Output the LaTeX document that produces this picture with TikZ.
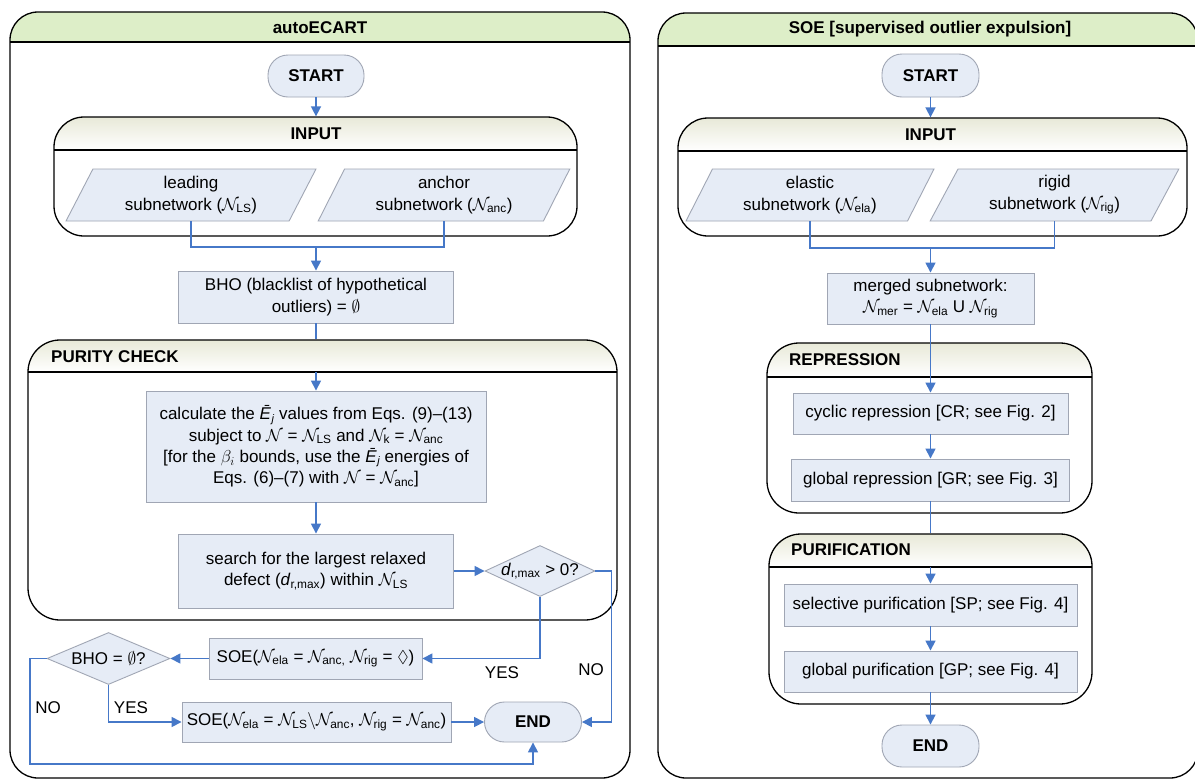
\documentclass[tikz,border=0pt]{standalone}
\usepackage{amsmath,amssymb}
\usepackage{fontspec}
\setmainfont{Liberation Sans}
\usetikzlibrary{arrows.meta,shapes.geometric,fit}
\definecolor{boxfill}{RGB}{230,236,246}
\definecolor{boxline}{RGB}{160,166,180}
\definecolor{cblue}{RGB}{70,120,200}
\definecolor{hdgreen}{RGB}{221,238,200}
\definecolor{hdtop}{RGB}{232,233,216}
\newcommand\Nsub[1]{$\mathcal{N}_{\text{#1}}$}
\newcommand\Ebar{\textit{Ē}\kern0.5pt\raisebox{-2.5pt}{\fontsize{11}{11}\selectfont\textit{j}}}
\newcommand\Panel[6]{%
 \begin{scope}
  \clip[rounded corners=28pt] (#2,#3) rectangle (#4,#5);
  \fill[hdgreen] (#2,#3) rectangle (#4,#6);
 \end{scope}
 \draw[line width=1.3pt] (#2,#6) -- (#4,#6);
 \node[cont, rounded corners=28pt, fit={(#2,#3) (#4,#5)}] (#1) {};
}
\newcommand\Container[7]{%
 \begin{scope}
  \clip[rounded corners=#7] (#2,#3) rectangle (#4,#5);
  \shade[top color=hdtop, bottom color=white] (#2,#3) rectangle (#4,#6);
 \end{scope}
 \draw[line width=1.3pt] (#2,#6) -- (#4,#6);
 \node[cont, rounded corners=#7, fit={(#2,#3) (#4,#5)}] (#1) {};
}
\begin{document}
\begin{tikzpicture}[x=1pt,y=-1pt,
 every node/.style={font=\fontsize{17}{21.3}\selectfont},
 box/.style={draw=boxline, fill=boxfill, line width=0.9pt, inner sep=0pt, align=center},
 term/.style={box, rounded corners=20pt, font=\fontsize{17}{21.3}\selectfont\bfseries},
 para/.style={box, trapezium, trapezium left angle=64, trapezium right angle=116, trapezium stretches=true},
 dia/.style={box, diamond},
 cont/.style={draw=black, line width=1.3pt, inner sep=0pt},
 conn/.style={draw=cblue, line width=1.6pt},
 arr/.style={conn, -{Triangle[length=10pt,width=10pt]}},
 ttl/.style={font=\fontsize{17}{21.3}\selectfont\bfseries, inner sep=0pt},
 lbl/.style={inner sep=0pt},
]
\useasboundingbox (0,0) rectangle (1195,780);
\fill[white] (0,0) rectangle (1195,780);
\clip (0,0) rectangle (1195,780);

% ---------------- left panel ----------------
\Panel{Lpanel}{10}{12}{630}{778}{42}
\node[ttl] (Ltitle) at (320,28) {autoECART};

\node[term, minimum width=96pt, minimum height=42pt] (Lstart) at (316,76) {START};
\Container{Linp}{54}{117}{577}{236}{150}{30pt}
\node[ttl] (LinpT) at (316,134) {INPUT};
\node[para, minimum width=250pt, minimum height=52pt] (Llead) at (191,195) {leading\\subnetwork (\Nsub{LS})};
\node[para, minimum width=252pt, minimum height=52pt] (Lanc) at (444,195) {anchor\\subnetwork (\Nsub{anc})};
\coordinate (LJ) at (316,247);
\node[box, minimum width=275pt, minimum height=52pt] (Lbho) at (316,297) {BHO (blacklist of hypothetical\\outliers) = $\emptyset$};

\Container{Lpur}{28}{340}{617}{620}{372}{32pt}
\node[ttl, anchor=west] (LpurT) at (51,357) {PURITY CHECK};
\coordinate (LpurH) at (316,372);
\node[box, minimum width=340pt, minimum height=111pt] (Lcalc) at (316,446.5) {calculate the \Ebar{} values from Eqs. (9)--(13)\\subject to $\mathcal{N}$ = \Nsub{LS} and \Nsub{k} = \Nsub{anc}\\{}[for the $\beta_{i}$ bounds, use the \Ebar{} energies of\\Eqs. (6)--(7) with $\mathcal{N}$ = \Nsub{anc}]};
\node[box, minimum width=275pt, minimum height=74pt] (Lsearch) at (316,571) {search for the largest relaxed\\defect (\textit{d}\textsubscript{r,max}) within \Nsub{LS}};
\node[dia, minimum width=110pt, minimum height=51pt] (Ldq) at (540,571) {};
\node[lbl] (LdqT) at (Ldq.center) {\textit{d}\textsubscript{r,max} > 0?};

\node[term, minimum width=97pt, minimum height=40pt] (Lend) at (533,722) {END};
\node[box, minimum width=213pt, minimum height=41pt] (Lsoe1) at (315.5,658.5) {SOE(\Nsub{ela} = \Nsub{anc,} \Nsub{rig} = $\lozenge$)};
\node[dia, minimum width=123pt, minimum height=52pt] (Lbq) at (108.5,658.5) {};
\node[lbl] (LbqT) at (Lbq.center) {BHO = $\emptyset$?};
\node[box, minimum width=269pt, minimum height=40pt] (Lsoe2) at (316.5,722) {SOE(\Nsub{ela} = \Nsub{LS}$\setminus$\Nsub{anc}, \Nsub{rig} = \Nsub{anc})};
\coordinate (Lloop) at (30,764);

\node[lbl] (LnoR) at (591,670) {NO};
\node[lbl] (LyesR) at (502,673) {YES};
\node[lbl] (LnoL) at (48,708) {NO};
\node[lbl] (LyesL) at (131,708) {YES};

\draw[arr] (Lstart.south) -- (Lstart.south |- Linp.north);
\draw[conn] (Llead.center |- Llead.south) |- (LJ) -| (Lanc.center |- Lanc.south);
\draw[arr] (LJ) -- (Lbho.north);
\draw[conn] (Lbho.south) -- (Lbho.south |- Lpur.north);
\draw[arr] (LpurH) -- (Lcalc.north);
\draw[arr] (Lcalc.south) -- (Lsearch.north);
\draw[arr] (Lsearch.east) -- (Ldq.west);
\draw[arr] (Ldq.east) -- ++(16,0) |- (Lend.east);
\draw[arr] (Ldq.south) |- (Lsoe1.east);
\draw[arr] (Lsoe1.west) -- (Lbq.east);
\draw[arr] (Lbq.west) -| (Lloop) -| (Lend.south);
\draw[arr] (Lbq.south) |- (Lsoe2.west);
\draw[arr] (Lsoe2.east) -- (Lend.west);

% ---------------- right panel ----------------
\Panel{Rpanel}{658}{13}{1198}{778}{46}
\node[ttl] (Rtitle) at (930,29) {SOE [supervised outlier expulsion]};

\node[term, minimum width=97pt, minimum height=43pt] (Rstart) at (930.5,75.5) {START};
\Container{Rinp}{678}{118}{1187}{236}{151}{30pt}
\node[ttl] (RinpT) at (930.5,135) {INPUT};
\node[para, minimum width=248pt, minimum height=52pt] (Rela) at (810,195) {elastic\\subnetwork (\Nsub{ela})};
\node[para, minimum width=249pt, minimum height=52pt] (Rrig) at (1054.5,195) {rigid\\subnetwork (\Nsub{rig})};
\coordinate (RJ) at (930.5,248);
\node[box, minimum width=207pt, minimum height=51pt] (Rmer) at (930.5,298.5) {merged subnetwork:\\\Nsub{mer} = \Nsub{ela} U \Nsub{rig}};

\Container{Rrep}{767}{343}{1092}{513}{377}{32pt}
\node[ttl, anchor=west] (RrepT) at (789,360) {REPRESSION};
\node[box, minimum width=275pt, minimum height=41pt] (Rcyc) at (930.5,413.5) {cyclic repression [CR; see Fig. 2]};
\node[box, minimum width=278pt, minimum height=42pt] (Rgre) at (930.5,480) {global repression [GR; see Fig. 3]};

\Container{Rpur}{769}{534}{1092}{704}{567}{32pt}
\node[ttl, anchor=west] (RpurT) at (791,550) {PURIFICATION};
\coordinate (RpurH) at (930.5,567);
\node[box, minimum width=293pt, minimum height=42pt] (Rsel) at (930.5,605) {selective purification [SP; see Fig. 4]};
\node[box, minimum width=293pt, minimum height=41pt] (Rgpu) at (930.5,671.5) {global purification [GP; see Fig. 4]};
\node[term, minimum width=97pt, minimum height=42pt] (Rend) at (930.5,746) {END};

\draw[arr] (Rstart.south) -- (Rstart.south |- Rinp.north);
\draw[conn] (Rela.center |- Rela.south) |- (RJ) -| (Rrig.center |- Rrig.south);
\draw[arr] (RJ) -- (Rmer.north);
\draw[arr] (Rmer.south) -- (Rcyc.north);
\draw[arr] (Rcyc.south) -- (Rgre.north);
\draw[conn] (Rgre.south) -- (Rgre.south |- Rpur.north);
\draw[arr] (RpurH) -- (Rsel.north);
\draw[arr] (Rsel.south) -- (Rgpu.north);
\draw[arr] (Rgpu.south) -- (Rend.north);
\end{tikzpicture}
\end{document}
